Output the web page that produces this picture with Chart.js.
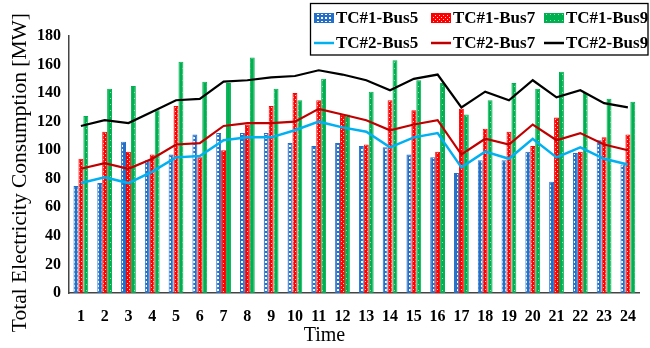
<!DOCTYPE html>
<html><head><meta charset="utf-8">
<script src="https://cdn.jsdelivr.net/npm/chart.js@4"></script>
<style>html,body{margin:0;padding:0;background:#fff}#wrap{width:650px;height:348px;position:relative}</style>
</head><body><div id="wrap"><canvas id="c" width="650" height="348"></canvas></div>
<script>
const hours = ['1','2','3','4','5','6','7','8','9','10','11','12','13','14','15','16','17','18','19','20','21','22','23','24'];
const yTicks = [0,20,40,60,80,100,120,140,160,180];
const tc1Bus5 = [75,77,106,93,97,111,112,112,112,105,103,105,103,102,97,95,84,93,93,99,78,98,107,90];
const tc1Bus7 = [94,113,99,97,131,95,100,118,131,140,135,125,104,135,128,99,129,115,113,103,123,99,109,111];
const tc1Bus9 = [124,143,145,128,162,148,147,165,143,135,150,125,141,163,149,147,125,135,147,143,155,140,136,134];
const tc2Bus5 = [77,81,77,85,95,96,107,109,109,114,120,116,113,102,109,112,88,99,94,108,95,102,94,90];
const tc2Bus7 = [87,91,87,94,104,105,117,119,119,120,129,125,121,114,118,121,97,108,104,118,107,112,104,100];
const tc2Bus9 = [117,121,119,127,135,136,148,149,151,152,156,153,149,142,150,153,130,141,135,149,137,142,133,130];

function makePattern(w, h, bg, fg, cells) {
  const c = document.createElement('canvas');
  c.width = w; c.height = h;
  const g = c.getContext('2d');
  g.fillStyle = bg; g.fillRect(0, 0, w, h);
  g.fillStyle = fg;
  cells.forEach(r => g.fillRect(r[0], r[1], r[2], r[3]));
  return g.createPattern(c, 'repeat');
}
const blueCol = '#2470C8', redCol = '#FF0000', greenCol = '#00B050';
const bluePat = makePattern(4, 4, blueCol, '#ffffff', [[1,1,2,2]]);
const redPat = makePattern(4, 4, redCol, '#ffd0d0', [[1,1,1,1],[3,3,1,1]]);
const greenPat = makePattern(4, 6, greenCol, '#8fdcb0', [[2,2,1,1]]);

const FONT = "'Liberation Serif','Times New Roman',serif";

const boxLegend = {
  id: 'boxLegend',
  afterDraw(chart) {
    const ctx = chart.ctx;
    const ds = chart.data.datasets;
    const x0 = 310.5, y0 = 3.5, x1 = 648, y1 = 55;
    ctx.save();
    ctx.fillStyle = '#fff';
    ctx.fillRect(x0, y0, x1 - x0, y1 - y0);
    ctx.strokeStyle = '#000';
    ctx.lineWidth = 1.3;
    ctx.strokeRect(x0, y0, x1 - x0, y1 - y0);
    const cols = [314, 431, 544];
    const rows = [18, 43];
    ctx.font = "bold 17px " + FONT;
    ctx.textBaseline = 'middle';
    ctx.fillStyle = '#000';
    ds.forEach((d, i) => {
      const cx = cols[i % 3], cy = rows[Math.floor(i / 3)];
      if (d.type === 'line') {
        ctx.strokeStyle = d.borderColor;
        ctx.lineWidth = 2.5;
        ctx.beginPath(); ctx.moveTo(cx, cy); ctx.lineTo(cx + 20, cy); ctx.stroke();
      } else {
        ctx.fillStyle = d.backgroundColor;
        ctx.fillRect(cx, cy - 5, 20, 10);
        ctx.strokeStyle = d.borderColor; ctx.lineWidth = 1;
        ctx.strokeRect(cx + 0.5, cy - 4.5, 19, 9);
      }
      ctx.fillStyle = '#000';
      ctx.fillText(d.label, cx + 22, cy + 1);
    });
    ctx.restore();
  }
};

const barCommon = { type: 'bar', borderWidth: 1, categoryPercentage: 0.62, barPercentage: 1.0, order: 2 };
const lineCommon = { type: 'line', fill: false, pointRadius: 0, tension: 0, order: 1 };

new Chart(document.getElementById('c'), {
  data: {
    labels: hours,
    datasets: [
      Object.assign({ label: 'TC#1-Bus5', data: tc1Bus5, backgroundColor: bluePat, borderColor: blueCol }, barCommon),
      Object.assign({ label: 'TC#1-Bus7', data: tc1Bus7, backgroundColor: redPat, borderColor: redCol }, barCommon),
      Object.assign({ label: 'TC#1-Bus9', data: tc1Bus9, backgroundColor: greenPat, borderColor: greenCol }, barCommon),
      Object.assign({ label: 'TC#2-Bus5', data: tc2Bus5, borderColor: '#00B0F0', borderWidth: 2.5 }, lineCommon),
      Object.assign({ label: 'TC#2-Bus7', data: tc2Bus7, borderColor: '#C00000', borderWidth: 2.2 }, lineCommon),
      Object.assign({ label: 'TC#2-Bus9', data: tc2Bus9, borderColor: '#000000', borderWidth: 2.2 }, lineCommon)
    ]
  },
  options: {
    responsive: false,
    animation: false,
    layout: { padding: { left: 0, right: 6, top: 36, bottom: 0 } },
    plugins: { legend: { display: false }, tooltip: { enabled: false } },
    scales: {
      x: {
        grid: { display: false, drawTicks: false },
        border: { display: true, color: '#444', width: 1.5 },
        ticks: { color: '#000', font: { family: FONT, size: 16, weight: 'bold' }, padding: 14, maxRotation: 0, autoSkip: false },
        title: { display: true, text: 'Time            ', color: '#000', font: { family: FONT, size: 20 }, padding: { top: 0, bottom: 0 } },
        afterFit(s) { s.height = 55; }
      },
      y: {
        min: 0, max: 180,
        grid: { display: false, drawTicks: false },
        border: { display: true, color: '#444', width: 1.5 },
        afterBuildTicks(s) { s.ticks = yTicks.map(v => ({ value: v })); },
        ticks: { color: '#000', font: { family: FONT, size: 16, weight: 'bold' }, padding: 8 },
        title: { display: true, text: 'Total Electricity Consumption [MW]   ', color: '#000', font: { family: FONT, size: 21.5 }, padding: { top: 7, bottom: 0 } },
        afterFit(s) { s.width = 69; }
      }
    }
  },
  plugins: [boxLegend]
});
</script>
</body></html>
